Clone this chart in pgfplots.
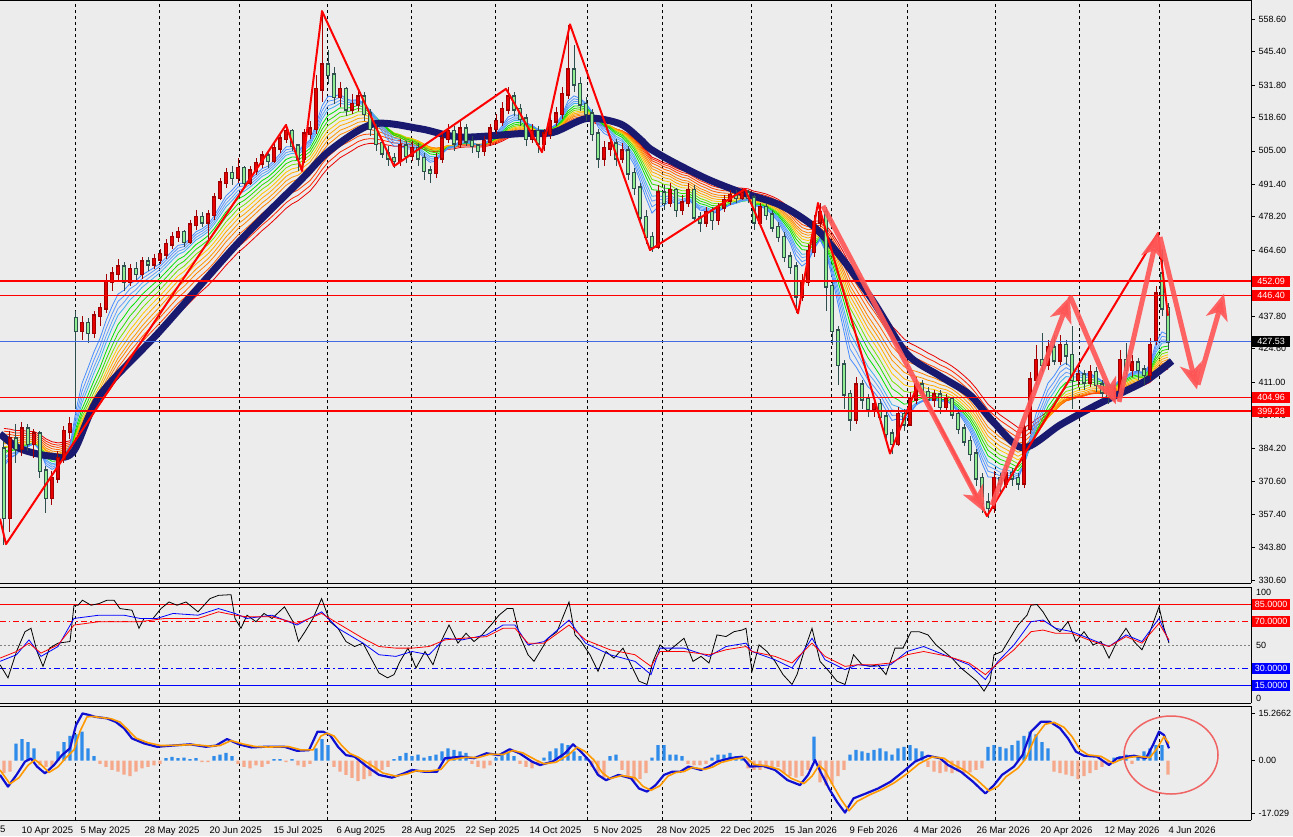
\documentclass[border=0pt]{standalone}
\usepackage{fontspec}
\setmainfont{Liberation Sans}
\usepackage{pgfplots}
\usepackage{pgfplotstable}
\pgfplotsset{compat=1.18}
\usetikzlibrary{arrows.meta}

\definecolor{bg}{RGB}{236,236,236}
\definecolor{navyma}{RGB}{25,25,112}
\definecolor{bullfill}{RGB}{230,0,0}
\definecolor{bullline}{RGB}{160,0,0}
\definecolor{bearfill}{RGB}{144,238,144}
\definecolor{bearline}{RGB}{47,79,79}
\definecolor{arrowred}{RGB}{255,85,85}
\definecolor{histblue}{RGB}{46,139,234}
\definecolor{histsalmon}{RGB}{245,168,138}
\definecolor{macdblue}{RGB}{16,16,210}
\definecolor{macdorange}{RGB}{255,153,0}
\definecolor{lineblue}{RGB}{65,105,225}
\definecolor{r1}{RGB}{70,140,255}
\definecolor{r2}{RGB}{85,150,255}
\definecolor{r3}{RGB}{100,160,250}
\definecolor{r4}{RGB}{60,175,240}
\definecolor{r5}{RGB}{0,225,0}
\definecolor{r6}{RGB}{40,220,0}
\definecolor{r7}{RGB}{120,225,0}
\definecolor{r8}{RGB}{255,200,0}
\definecolor{r9}{RGB}{255,170,0}
\definecolor{r10}{RGB}{255,150,0}
\definecolor{r11}{RGB}{255,130,0}
\definecolor{r12}{RGB}{255,100,0}
\definecolor{r13}{RGB}{255,70,0}
\definecolor{r14}{RGB}{255,40,0}
\definecolor{r15}{RGB}{235,0,0}

\pgfplotstableread{
x o h l c
4 384 387 345 356
10 356 391 350 388
16 388 394 378 384
22 384 395 381 392
28 392 394 383 386
34 386 392 380 390
40 390 391 372 375
46 375 377 358 364
52 364 375 361 372
58 372 383 370 380
64 380 393 378 391
70 391 397 388 394
76 437 440 400 432
82 432 438 428 435
88 435 437 427 431
94 431 440 429 438
100 438 443 434 441
106 441 455 439 452
112 452 458 448 455
118 455 461 452 458
124 458 460 448 452
130 452 459 450 457
136 457 460 452 455
142 455 462 453 460
148 460 462 456 459
154 459 463 457 461
160 461 465 459 463
166 463 469 461 467
172 467 472 465 470
178 470 474 468 472
184 472 473 466 468
190 468 477 467 475
196 475 481 473 478
202 478 480 474 476
208 476 481 468 479
214 479 488 477 486
220 486 494 485 492
226 492 498 490 496
232 496 499 491 494
238 494 502 492 498
244 498 499 490 492
250 492 499 491 497
256 497 502 495 500
262 500 505 498 503
268 503 505 498 501
274 501 508 500 506
280 506 512 504 510
286 510 516 508 513
292 513 514 505 507
298 507 508 497 502
304 502 514 500 512
310 512 517 510 514
316 514 536 512 530
322 530 562 525 540
328 540 546 532 536
334 536 539 524 527
340 527 533 523 530
346 530 531 519 522
352 522 528 520 524
358 524 530 521 527
364 527 529 517 520
370 520 522 511 514
376 514 516 505 508
382 508 510 502 504
388 504 507 499 502
394 502 504 498 501
400 501 510 499 507
406 507 509 500 503
412 503 509 501 506
418 506 508 499 502
424 502 504 493 497
430 497 499 492 496
436 496 504 494 502
442 502 513 500 510
448 510 516 508 513
454 513 515 505 508
460 508 517 506 514
466 514 516 507 509
472 509 511 504 507
478 507 508 502 505
484 505 511 503 509
490 509 516 507 514
496 514 520 512 517
502 517 525 515 522
508 522 531 520 527
514 527 529 519 522
520 522 524 515 518
526 518 520 507 510
532 510 516 508 513
538 513 515 504 508
544 508 514 505 512
550 512 519 510 517
556 517 523 515 520
562 520 531 518 528
568 528 556 526 538
574 538 548 529 532
580 532 535 521 524
586 524 527 517 520
592 520 522 509 512
598 512 514 498 502
604 502 509 499 506
610 506 511 503 508
616 508 510 499 502
622 502 508 500 505
628 505 507 493 496
634 496 498 487 490
640 490 492 475 478
646 478 481 467 470
652 470 472 464 466
658 466 491 465 488
664 488 491 481 484
670 484 492 482 489
676 489 490 478 481
682 481 487 479 484
688 484 492 482 489
694 489 491 476 478
700 478 480 472 476
706 476 482 474 480
712 480 482 473 477
718 477 484 475 482
724 482 487 480 485
730 485 489 483 487
736 487 489 484 486
742 486 490 485 488
748 488 489 484 486
754 486 487 473 476
760 476 484 475 482
766 482 484 477 479
772 479 481 472 474
778 474 476 468 470
784 470 472 460 462
790 462 464 455 458
796 458 460 439 446
802 446 455 444 452
808 452 467 450 464
814 464 479 462 476
820 476 484 474 480
826 480 482 440 450
832 450 452 426 432
838 432 434 410 418
844 418 420 400 406
850 406 408 391 396
856 396 413 394 410
862 410 412 400 404
868 404 406 397 400
874 400 405 397 402
880 402 404 394 397
886 397 399 387 390
892 390 392 382 386
898 386 401 385 398
904 398 400 391 394
910 394 407 393 404
916 404 413 402 410
922 410 412 404 407
928 407 409 402 404
934 404 408 401 406
940 406 408 398 401
946 401 406 399 404
952 404 405 396 398
958 398 400 390 392
964 392 394 385 387
970 387 389 379 382
976 382 384 369 372
982 372 374 358 362
988 362 366 356 360
994 360 375 358 372
1000 372 374 366 370
1006 370 377 368 374
1012 374 376 369 372
1018 372 374 367 370
1024 370 395 368 392
1030 392 415 390 412
1036 412 426 410 420
1042 420 431 415 418
1048 418 428 416 425
1054 425 430 418 420
1060 420 430 418 426
1066 426 428 418 422
1072 422 434 400 412
1078 412 418 409 414
1084 414 416 408 411
1090 411 418 409 415
1096 415 417 407 410
1102 410 412 404 407
1108 407 409 402 405
1114 405 410 403 408
1120 408 424 406 420
1126 420 427 414 416
1132 416 422 413 419
1138 419 421 412 416
1144 416 418 410 414
1150 414 429 412 426
1156 428 450 426 447
1162 455 465 438 441
1168 441 443 424 427.53
}\candles

\pgfplotstablecreatecol[create col/expr accum={\pgfmathaccuma+0.308*(\thisrow{c}-\pgfmathaccuma)}{386}]{e1}\candles
\pgfplotstablecreatecol[create col/expr accum={\pgfmathaccuma+0.267*(\thisrow{c}-\pgfmathaccuma)}{386}]{e2}\candles
\pgfplotstablecreatecol[create col/expr accum={\pgfmathaccuma+0.235*(\thisrow{c}-\pgfmathaccuma)}{387}]{e3}\candles
\pgfplotstablecreatecol[create col/expr accum={\pgfmathaccuma+0.211*(\thisrow{c}-\pgfmathaccuma)}{387}]{e4}\candles
\pgfplotstablecreatecol[create col/expr accum={\pgfmathaccuma+0.182*(\thisrow{c}-\pgfmathaccuma)}{388}]{e5}\candles
\pgfplotstablecreatecol[create col/expr accum={\pgfmathaccuma+0.160*(\thisrow{c}-\pgfmathaccuma)}{388}]{e6}\candles
\pgfplotstablecreatecol[create col/expr accum={\pgfmathaccuma+0.143*(\thisrow{c}-\pgfmathaccuma)}{389}]{e7}\candles
\pgfplotstablecreatecol[create col/expr accum={\pgfmathaccuma+0.129*(\thisrow{c}-\pgfmathaccuma)}{389}]{e8}\candles
\pgfplotstablecreatecol[create col/expr accum={\pgfmathaccuma+0.118*(\thisrow{c}-\pgfmathaccuma)}{390}]{e9}\candles
\pgfplotstablecreatecol[create col/expr accum={\pgfmathaccuma+0.108*(\thisrow{c}-\pgfmathaccuma)}{390}]{e10}\candles
\pgfplotstablecreatecol[create col/expr accum={\pgfmathaccuma+0.100*(\thisrow{c}-\pgfmathaccuma)}{391}]{e11}\candles
\pgfplotstablecreatecol[create col/expr accum={\pgfmathaccuma+0.0909*(\thisrow{c}-\pgfmathaccuma)}{392}]{e12}\candles
\pgfplotstablecreatecol[create col/expr accum={\pgfmathaccuma+0.0833*(\thisrow{c}-\pgfmathaccuma)}{393}]{e13}\candles
\pgfplotstablecreatecol[create col/expr accum={\pgfmathaccuma+0.0769*(\thisrow{c}-\pgfmathaccuma)}{394}]{e14}\candles
\pgfplotstablecreatecol[create col/expr accum={\pgfmathaccuma+0.0714*(\thisrow{c}-\pgfmathaccuma)}{395}]{e15}\candles

\pgfplotsset{
  panel/.style={
    scale only axis, width=1251pt, xmin=0, xmax=1251,
    anchor=north west,
    axis x line*=box, axis y line*=right,
    axis line style={black, line width=0.8pt},
    ytick pos=right, tick align=outside, major tick length=4pt,
    xtick={75,159,239,327,411,495,587,662,751,831,907,995,1079,1159},
    xticklabels={},
    xmajorgrids=true,
    major x grid style={black, dash pattern=on 3pt off 3pt, line width=0.7pt},
    x tick style={draw=none},
    y tick style={black, line width=0.7pt},
    ticklabel style={font=\fontsize{9}{10}\selectfont, text=black},
    /pgf/number format/assume math mode=true,
  },
}

\begin{document}
\begin{tikzpicture}
\fill[bg] (0pt,0pt) rectangle (1293pt,-836pt);
\useasboundingbox (0pt,0pt) rectangle (1293pt,-836pt);

% ================= MAIN PRICE PANEL =================
\begin{axis}[panel, at={(0pt,0pt)}, height=583pt,
  ymin=329.4, ymax=566.3,
  ytick={330.6,343.8,357.4,370.6,384.2,397.4,411,424.6,437.8,451,464.6,478.2,491.4,505,518.6,531.8,545.4,558.6},
  yticklabels={330.60,343.80,357.40,370.60,384.20,397.40,411.00,424.60,437.80,,464.60,478.20,491.40,505.00,518.60,531.80,545.40,558.60},
]
% rainbow moving averages (slow to fast)
\addplot[r15, line width=0.8pt] table[x=x,y=e15]{\candles};
\addplot[r14, line width=0.8pt] table[x=x,y=e14]{\candles};
\addplot[r13, line width=0.8pt] table[x=x,y=e13]{\candles};
\addplot[r12, line width=0.8pt] table[x=x,y=e12]{\candles};
\addplot[r11, line width=0.8pt] table[x=x,y=e11]{\candles};
\addplot[r10, line width=0.8pt] table[x=x,y=e10]{\candles};
\addplot[r9, line width=0.8pt] table[x=x,y=e9]{\candles};
\addplot[r8, line width=0.8pt] table[x=x,y=e8]{\candles};
\addplot[r7, line width=0.8pt] table[x=x,y=e7]{\candles};
\addplot[r6, line width=0.8pt] table[x=x,y=e6]{\candles};
\addplot[r5, line width=0.8pt] table[x=x,y=e5]{\candles};
\addplot[r4, line width=0.8pt] table[x=x,y=e4]{\candles};
\addplot[r3, line width=0.8pt] table[x=x,y=e3]{\candles};
\addplot[r2, line width=0.8pt] table[x=x,y=e2]{\candles};
\addplot[r1, line width=0.8pt] table[x=x,y=e1]{\candles};
% thick navy moving average
\addplot[navyma, line width=7pt, smooth, tension=0.5, line join=round] coordinates {
(0,390)(20,384)(50,381)(73,382.6)(100,405.8)(160,431.8)(239,468)(300,492.8)(330,505.2)
(373,515.9)(420,514)(460,510.6)(520,512)(553,512.5)(587,518.2)(620,516)(640,509.8)(650,505.9)
(673,500.5)(707,493.6)(740,488.3)(780,483)(813,474.5)(840,462.3)(873,444)(907,422.5)
(940,413.5)(970,405.8)(993,395)(1023,384.3)(1060,393.6)(1093,401)(1117,405.8)(1147,411.9)(1172,419.6)};
% candles: wicks
\addplot[forget plot, draw=none, restrict expr to domain={\thisrow{c}-\thisrow{o}}{0:1000},
  error bars/.cd, y dir=both, y explicit, error mark=none, error bar style={draw=bullline, line width=1pt}]
  table[x=x, y expr={(\thisrow{h}+\thisrow{l})/2}, y error expr={(\thisrow{h}-\thisrow{l})/2}]{\candles};
\addplot[forget plot, draw=none, restrict expr to domain={\thisrow{c}-\thisrow{o}}{-1000:-0.001},
  error bars/.cd, y dir=both, y explicit, error mark=none, error bar style={draw=bearline, line width=1pt}]
  table[x=x, y expr={(\thisrow{h}+\thisrow{l})/2}, y error expr={(\thisrow{h}-\thisrow{l})/2}]{\candles};
% candle bodies (outline then fill)
\addplot[forget plot, draw=none, restrict expr to domain={\thisrow{c}-\thisrow{o}}{0:1000},
  error bars/.cd, y dir=both, y explicit, error mark=none, error bar style={draw=bullline, line width=4.2pt}]
  table[x=x, y expr={(\thisrow{o}+\thisrow{c})/2}, y error expr={abs(\thisrow{c}-\thisrow{o})/2+0.6}]{\candles};
\addplot[forget plot, draw=none, restrict expr to domain={\thisrow{c}-\thisrow{o}}{0:1000},
  error bars/.cd, y dir=both, y explicit, error mark=none, error bar style={draw=bullfill, line width=2.6pt}]
  table[x=x, y expr={(\thisrow{o}+\thisrow{c})/2}, y error expr={abs(\thisrow{c}-\thisrow{o})/2}]{\candles};
\addplot[forget plot, draw=none, restrict expr to domain={\thisrow{c}-\thisrow{o}}{-1000:-0.001},
  error bars/.cd, y dir=both, y explicit, error mark=none, error bar style={draw=bearline, line width=4.2pt}]
  table[x=x, y expr={(\thisrow{o}+\thisrow{c})/2}, y error expr={abs(\thisrow{c}-\thisrow{o})/2+0.6}]{\candles};
\addplot[forget plot, draw=none, restrict expr to domain={\thisrow{c}-\thisrow{o}}{-1000:-0.001},
  error bars/.cd, y dir=both, y explicit, error mark=none, error bar style={draw=bearfill, line width=2.6pt}]
  table[x=x, y expr={(\thisrow{o}+\thisrow{c})/2}, y error expr={abs(\thisrow{c}-\thisrow{o})/2}]{\candles};
% horizontal levels
\addplot[red, line width=2pt] coordinates {(0,452.09)(1251,452.09)};
\addplot[red, line width=1pt] coordinates {(0,446.40)(1251,446.40)};
\addplot[lineblue, line width=1pt] coordinates {(0,427.53)(1251,427.53)};
\addplot[red, line width=1pt] coordinates {(0,404.96)(1251,404.96)};
\addplot[red, line width=2pt] coordinates {(0,399.28)(1251,399.28)};
% zigzag
\addplot[red, line width=2pt, line join=round] coordinates {
(0,355.5)(6,345.2)(286,515.5)(302,496.8)(322,561.8)(394,498.8)(506,530.2)(542,504.5)
(570,556.4)(650,464.7)(745,489.5)(798,439)(818,483.8)(890,382)(918,410.3)(987,356.6)(1158,471.6)(1168,438)};
% projection arrows
\addplot[arrowred, opacity=0.9, line width=5pt, -{Stealth[length=26pt,width=22pt,inset=7pt]}] coordinates {(823,482.6)(985,358)};
\addplot[arrowred, opacity=0.9, line width=5pt, -{Stealth[length=26pt,width=22pt,inset=7pt]}] coordinates {(992,361)(1070,446)};
\addplot[arrowred, opacity=0.9, line width=5pt, -{Stealth[length=26pt,width=22pt,inset=7pt]}] coordinates {(1070,446)(1116,402)};
\addplot[arrowred, opacity=0.9, line width=5pt, -{Stealth[length=26pt,width=22pt,inset=7pt]}] coordinates {(1119,403)(1158,472)};
\addplot[arrowred, opacity=0.9, line width=5pt, -{Stealth[length=26pt,width=22pt,inset=7pt]}] coordinates {(1160,470)(1197,408)};
\addplot[arrowred, opacity=0.9, line width=5pt, -{Stealth[length=26pt,width=22pt,inset=7pt]}] coordinates {(1198,410)(1224,447)};
\end{axis}

% ================= RSI PANEL =================
\begin{axis}[panel, at={(0pt,-587pt)}, height=116pt, ymin=0, ymax=100, ytick=\empty]
\addplot[red, line width=1pt] coordinates {(0,85)(1251,85)};
\addplot[red, line width=1pt, dash pattern=on 6pt off 3pt on 1.5pt off 3pt] coordinates {(0,70)(1251,70)};
\addplot[gray, line width=1pt, dash pattern=on 2pt off 2pt] coordinates {(0,50)(1251,50)};
\addplot[blue, line width=1pt, dash pattern=on 6pt off 3pt on 1.5pt off 3pt] coordinates {(0,30)(1251,30)};
\addplot[blue, line width=1pt] coordinates {(0,15)(1251,15)};
\addplot[black, line width=0.8pt] coordinates {
(0,33.0)(8,21.7)(16.5,44.4)(25,61.5)(31,64.4)(37,44.4)(43,31.6)(49.5,47.3)(58,51.6)(70,53.0)(74,84.3)(78,84.3)(82.5,88.6)(91,84.3)(99,85.7)(107,88.6)(114,88.6)(120,81.4)(132,80.0)(139,64.4)(144,72.9)(153,72.9)(161,81.4)(169,87.1)(177,84.3)(186,87.1)(198,78.6)(210,90.0)(218.5,92.8)(231,93.4)(235,72.9)(241,64.4)(247,75.7)(256,70.1)(264,77.2)(272,72.9)(284.5,82.9)(293,70.1)(298.5,53.0)(305,61.5)(313,72.9)(321.6,90.0)(330,70.1)(338,64.4)(346,53.0)(354.6,48.7)(363,51.6)(371,38.7)(379,25.9)(387.6,21.7)(394,24.5)(400,35.9)(408,47.3)(416,30.2)(425,44.4)(433,33.0)(441,53.0)(449,67.2)(458,51.6)(466,60.1)(474,53.0)(482,58.7)(491,67.2)(499,75.7)(507,81.4)(513,81.4)(519.5,58.7)(528,41.6)(534,35.9)(540,44.4)(548,55.8)(557,61.5)(565,78.6)(569,87.1)(575,58.7)(581,53.0)(590,41.6)(598,27.3)(606,44.4)(614,38.7)(623,47.3)(631,33.0)(639,18.8)(647,16.0)(653,35.9)(660,50.1)(668,44.4)(676,50.1)(684,55.8)(693,35.9)(701,40.2)(709,34.5)(717,58.7)(726,57.3)(734,61.5)(742,62.9)(746,64.4)(752,27.3)(759,50.1)(767,44.4)(775,35.9)(783,24.5)(792,16.0)(797,24.5)(804,44.4)(812,64.4)(820,35.9)(829,27.3)(837,18.8)(845,16.0)(853.5,41.6)(862,33.0)(870,31.6)(878,33.0)(886,24.5)(895,47.3)(903,47.3)(911,61.5)(919,61.5)(928,58.7)(936,50.1)(944,44.4)(952,38.7)(961,30.2)(969,24.5)(977,18.8)(984,10.3)(990,18.8)(994,41.6)(1002,44.4)(1010,55.8)(1018,67.2)(1027,75.7)(1031,84.3)(1037,84.9)(1043,78.6)(1051,67.2)(1060,61.5)(1068,70.1)(1076,53.0)(1084,61.5)(1093,50.1)(1101,53.0)(1109,38.7)(1117,53.0)(1126,64.4)(1134,53.0)(1142,45.9)(1150,61.5)(1159,82.9)(1164,64.4)(1169,51.6)};
\addplot[blue, line width=0.8pt] coordinates {
(0,35.9)(16.5,41.6)(29,54.4)(41,40.2)(58,48.7)(74,72.9)(99,75.7)(124,75.7)(140,72.9)(157,72.9)(173,77.2)(198,75.7)(218.5,81.4)(235,77.2)(247,72.9)(272,75.7)(297,67.2)(321.6,78.6)(338,64.4)(363,51.6)(379,41.6)(396,40.2)(412,44.4)(429,41.6)(445,55.8)(462,54.4)(486.5,58.7)(503,67.2)(515,67.2)(528,50.1)(544,52.9)(569,71.5)(585.5,51.6)(610,41.6)(635,35.9)(651,24.5)(660,47.3)(684,47.3)(709,40.2)(726,48.7)(746,51.6)(752,44.4)(775,37.3)(792,30.2)(812,55.8)(825,37.3)(845,28.8)(857.6,33.0)(874,31.6)(890.6,33.0)(907,44.4)(923.6,48.7)(948,40.2)(969,33.0)(985.4,20.2)(998,35.9)(1014,50.1)(1031,70.1)(1043,71.5)(1055.5,64.4)(1072,61.5)(1088.5,55.8)(1109,48.7)(1126,58.7)(1142,53.0)(1159,72.9)(1169,53.0)};
\addplot[red, line width=0.8pt] coordinates {
(0,38.7)(16.5,44.4)(29,51.6)(41,43.0)(58,50.1)(74,67.2)(99,70.1)(124,70.1)(140,70.1)(165,72.9)(198,72.9)(218.5,78.6)(235,75.7)(247,74.3)(272,74.3)(297,68.6)(321.6,77.2)(338,68.6)(363,55.8)(379,48.7)(396,47.3)(412,47.3)(429,48.7)(445,54.4)(462,55.8)(486.5,57.2)(503,64.4)(515,64.4)(528,51.6)(544,51.6)(569,67.2)(585.5,54.4)(610,45.9)(635,41.6)(651,31.6)(660,44.4)(684,44.4)(709,41.6)(726,45.9)(746,48.7)(752,44.4)(775,40.2)(792,34.5)(812,51.6)(825,40.2)(845,31.6)(857.6,33.0)(874,33.0)(890.6,34.5)(907,41.6)(923.6,44.4)(948,40.2)(969,34.5)(985.4,24.5)(998,34.5)(1014,45.9)(1031,61.5)(1043,62.9)(1055.5,60.1)(1072,60.1)(1088.5,54.4)(1109,48.7)(1126,57.2)(1142,51.6)(1159,68.6)(1169,54.4)};
\end{axis}

% ================= MACD PANEL =================
\begin{axis}[panel, at={(0pt,-706pt)}, height=114pt, ymin=-19.2, ymax=17.7,
  ytick={-17.029,0,15.2662}, yticklabels={-17.029,0.00,15.2662},
  extra x ticks={18,77,141,206,270,333,398,462,526,590,653,717,781,846,910,973,1037,1101,1165},
  extra x tick labels={10 Apr 2025,5 May 2025,28 May 2025,20 Jun 2025,15 Jul 2025,6 Aug 2025,28 Aug 2025,22 Sep 2025,14 Oct 2025,5 Nov 2025,28 Nov 2025,22 Dec 2025,15 Jan 2026,9 Feb 2026,4 Mar 2026,26 Mar 2026,20 Apr 2026,12 May 2026,4 Jun 2026},
  extra x tick style={grid=none, xtick pos=left, major tick length=4pt, tick style={draw=black, line width=0.7pt},
     xticklabel style={anchor=north west, font=\fontsize{9.5}{10}\selectfont, xshift=0pt, yshift=1pt}},
]
\addplot[ybar, bar width=3.4pt, bar shift=0pt, fill=histblue, draw=none] coordinates {
(16,5.5)(22,7)(28,6)(34,4)(58,3)(64,6)(70,8)(76,8.5)(82,9.4)(88,4)(94,1.5)(166,0.8)(172,1.2)(178,0.8)(184,1)(190,0.5)(196,0.8)(214,1.5)(220,2)(226,2.5)(232,1.5)(274,0.5)(280,0.5)(292,0.5)(316,4)(322,7)(328,5)(394,0.5)(400,1.5)(406,2.5)(412,1.5)(418,2)(424,1)(430,1.5)(436,2)(442,3)(448,4)(454,3.5)(460,3)(466,2.5)(496,1)(502,2)(508,2.5)(514,1.5)(544,1)(550,3)(556,4)(562,5.6)(568,5)(574,3)(580,1.5)(586,1)(610,1.5)(616,2)(652,1)(658,5)(664,5)(670,2)(676,2)(682,1.5)(712,1)(718,2)(724,2)(730,2.5)(736,1.5)(742,1)(814,7.8)(850,2)(856,3.5)(862,3)(868,2.5)(874,3.5)(880,4)(886,3)(892,2)(898,4)(904,4.5)(910,5)(916,4)(922,3)(988,4.5)(994,5)(1000,4.5)(1006,4)(1012,5)(1018,6.5)(1024,8)(1030,9.4)(1036,8.5)(1042,6)(1048,4)(1114,1)(1120,1.5)(1126,2)(1138,1.5)(1144,3)(1150,4)(1156,5)(1162,5)};
\addplot[ybar, bar width=3.4pt, bar shift=0pt, fill=histsalmon, draw=none] coordinates {
(4,-4)(10,-3.5)(40,-1.5)(46,-2)(52,-2)(100,-1)(106,-2)(112,-3)(118,-3.5)(124,-4.5)(130,-5)(136,-3.5)(142,-2.5)(148,-2)(154,-1.5)(160,-1)(202,-0.5)(208,-0.5)(238,-1)(244,-2)(250,-2.5)(256,-1.5)(262,-2)(268,-1)(286,-0.5)(298,-1.5)(304,-2)(310,-1)(334,-2)(340,-3.5)(346,-4.6)(352,-5.6)(358,-6.6)(364,-6)(370,-5)(376,-4)(382,-3)(388,-2)(472,-1)(478,-2)(484,-2.5)(490,-1.5)(520,-1)(526,-2)(532,-2.5)(538,-1.5)(592,-2)(598,-4.6)(604,-5.5)(622,-3)(628,-5)(634,-6.8)(640,-6)(646,-4)(688,-1)(694,-1.5)(700,-1.5)(706,-1)(748,-2.5)(754,-3)(760,-3)(766,-2.5)(772,-3)(778,-2)(784,-4)(790,-5)(796,-5.5)(802,-5)(808,-3)(820,-7)(826,-8)(832,-7.5)(838,-5)(844,-3)(928,-2)(934,-3.5)(940,-4)(946,-3.5)(952,-4)(958,-3.5)(964,-4)(970,-3.8)(976,-3)(982,-2.5)(1054,-3.5)(1060,-4)(1066,-4.5)(1072,-5)(1078,-6)(1084,-5)(1090,-4)(1096,-3)(1102,-2)(1108,-1)(1132,-1)(1168,-4.5)};
\addplot[macdblue, line width=2.2pt, line join=round] coordinates {
(0,-4.6)(8,-8.4)(16.5,-4.6)(25,-0.3)(31,0.7)(37,-1.9)(45,-4.1)(54,-1.4)(62,1.8)(70,4.0)(76,11.5)(82.5,15.3)(89,14.8)(95,14.2)(107,13.7)(115.5,12.6)(124,10.5)(132,7.2)(144,5.6)(157,4.5)(173,4.9)(190,5.3)(206,4.5)(216,4.9)(227,7.0)(239,5.3)(251.5,4.3)(264,4.5)(284.5,4.5)(297,3.2)(309,3.4)(317.5,9.4)(323,9.4)(330,8.3)(338,4.5)(346,1.8)(354.6,1.3)(367,-1.9)(379,-4.6)(392,-5.5)(404,-4.1)(412,-3.0)(425,-3.6)(437,-3.6)(445,0.8)(462,1.3)(474,0.8)(486.5,2.4)(499,1.8)(509.6,3.7)(519.5,2.4)(532,-0.3)(540,-1.4)(552.5,-0.3)(565,2.4)(573,5.3)(581,2.9)(590,-0.3)(598,-4.6)(606,-6.3)(618.5,-4.6)(631,-5.7)(639,-9.0)(647,-10.0)(655.6,-7.9)(664,-4.6)(672,-3.6)(680,-3.6)(688.5,-1.9)(701,-3.0)(709,-1.9)(717,-0.3)(730,0.8)(742,1.3)(750,-1.9)(763,-1.7)(775,-3.0)(787.5,-6.3)(800,-7.9)(808,-4.6)(815,0.2)(820.5,-3.6)(829,-9.0)(837,-13.3)(845,-16.8)(853.5,-12.2)(866,-10.6)(878,-9.0)(890.6,-6.8)(903,-3.6)(915,-0.3)(928,1.6)(940,0.8)(948,-1.4)(961,-3.6)(973,-6.8)(985.4,-10.6)(994,-7.9)(1002,-4.6)(1014,-1.9)(1022.5,1.8)(1031,9.4)(1041,12.6)(1050,12.6)(1060,10.5)(1068,7.2)(1076,2.9)(1084,1.6)(1097,1.3)(1109,-1.4)(1117,0.8)(1126,1.3)(1134,1.6)(1146,0.8)(1153,5.1)(1159,9.4)(1164,8.3)(1169,4.0)};
\addplot[macdorange, line width=1.6pt, line join=round] coordinates {
(0,-3.0)(10,-7.5)(19,-5.5)(28,-1.5)(35,0.3)(41,-1.2)(49,-3.8)(58,-2.0)(66,1.0)(74,3.5)(80,9.5)(87,14.2)(93,14.3)(100,14.0)(111,13.6)(120,12.5)(128,10.0)(136,7.3)(148,5.8)(161,4.9)(177,5.0)(194,5.2)(210,4.7)(220,4.9)(231,6.5)(243,5.4)(255,4.6)(268,4.4)(288,4.6)(301,3.5)(313,3.5)(321,8.0)(327,8.9)(334,8.0)(342,4.8)(350,2.3)(358,1.2)(371,-1.4)(383,-4.0)(396,-5.0)(408,-4.2)(416,-3.3)(429,-3.4)(441,-2.8)(449,0.2)(466,1.1)(478,1.0)(490,2.1)(503,2.0)(513,3.3)(523,2.5)(536,0.2)(544,-1.0)(556,-0.5)(569,2.0)(577,4.4)(585,3.0)(594,0.2)(602,-3.8)(610,-5.8)(622,-4.8)(635,-5.5)(643,-8.3)(651,-9.6)(660,-8.1)(668,-5.0)(676,-3.8)(684,-3.5)(692,-2.2)(705,-2.8)(713,-2.0)(721,-0.6)(734,0.5)(746,1.1)(754,-1.2)(767,-1.7)(779,-2.8)(791,-5.7)(804,-7.4)(812,-5.0)(819,-1.5)(825,-3.2)(833,-8.0)(841,-12.5)(849,-16.2)(857,-13.2)(870,-11.0)(882,-9.3)(894,-7.2)(907,-4.2)(919,-1.0)(932,1.2)(944,0.8)(952,-1.0)(965,-3.2)(977,-6.2)(989,-9.8)(998,-8.3)(1006,-5.2)(1018,-2.4)(1026,0.8)(1035,7.5)(1045,11.8)(1054,12.4)(1064,10.8)(1072,7.8)(1080,3.6)(1088,1.9)(1101,1.4)(1113,-0.8)(1121,0.4)(1130,1.1)(1138,1.4)(1150,1.0)(1157,4.0)(1164,7.8)(1169,5.6)};
\end{axis}

% circle annotation
\draw[color={rgb,255:red,240;green,100;blue,100}, line width=1.5pt] (1171pt,-755pt) ellipse [x radius=47pt, y radius=39pt];

% left clipped date fragment
\node[anchor=west, inner sep=0pt, font=\fontsize{9.5}{10}\selectfont] at (0pt,-829pt) {5};

% price level boxes
\foreach \yy/\tt/\cc in {281.1/452.09/red, 295.1/446.40/red, 341.5/427.53/black, 397.1/404.96/red, 411.1/399.28/red}{
  \node[anchor=west, fill=\cc, text=white, inner sep=1pt, minimum width=38pt, minimum height=11pt,
        font=\fontsize{9}{10}\selectfont] at (1252pt,-\yy pt) {\tt};
}
% RSI labels
\foreach \yy/\tt in {592/100, 645.5/50, 698/0}{
  \node[anchor=west, inner sep=0pt, font=\fontsize{9}{10}\selectfont] at (1256pt,-\yy pt) {\tt};
}
\foreach \yy/\tt/\cc in {604.4/85.0000/red, 621.8/70.0000/red, 668.2/30.0000/blue, 685.6/15.0000/blue}{
  \node[anchor=west, fill=\cc, text=white, inner sep=1pt, minimum width=38pt, minimum height=11pt,
        font=\fontsize{9}{10}\selectfont] at (1252pt,-\yy pt) {\tt};
}
\end{tikzpicture}
\end{document}
